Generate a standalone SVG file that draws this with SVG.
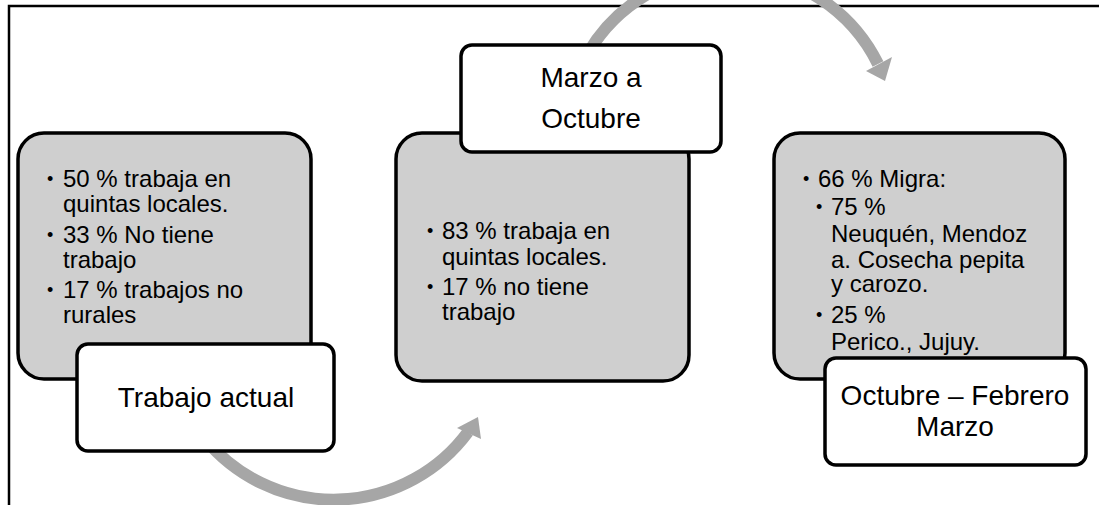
<svg xmlns="http://www.w3.org/2000/svg" width="1099" height="505" viewBox="0 0 1099 505">
<style>
.frame{fill:none;stroke:#000;stroke-width:2.5}
.gray{fill:#cfcfcf;stroke:#000;stroke-width:3.5}
.label{fill:#fff;stroke:#000;stroke-width:3.5}
.arc{fill:none;stroke:#a6a6a6;stroke-width:12}
.head{fill:#a6a6a6}
text{font-family:"Liberation Sans",Arial,sans-serif;fill:#000}
.b{font-size:24px}
.bul{font-size:18px}
.t{font-size:28px;text-anchor:middle}
</style>
<rect x="0" y="0" width="1099" height="505" fill="#fff"/>
<path class="frame" d="M9 505 V6 H1099"/>
<g id="connectors">
  <path class="arc" d="M588 53 A165 165 0 0 1 878 64"/>
  <polygon class="head" points="866,71 892,57 885,81"/>
  <path class="arc" d="M205 439 A167 167 0 0 0 468 432"/>
  <polygon class="head" points="457,428 481,439 478,417"/>
</g>
<g id="box1">
  <rect class="gray" x="18" y="133" width="293" height="246" rx="26"/>
  <text class="bul" x="47" y="185">•</text><text class="b" x="63" y="187">50 % trabaja en</text>
  <text class="b" x="63" y="212">quintas locales.</text>
  <text class="bul" x="47" y="241">•</text><text class="b" x="63" y="243">33 % No tiene</text>
  <text class="b" x="63" y="268">trabajo</text>
  <text class="bul" x="47" y="296">•</text><text class="b" x="63" y="298">17 % trabajos no</text>
  <text class="b" x="63" y="323">rurales</text>
</g>
<g id="label1">
  <rect class="label" x="77" y="344" width="257" height="107" rx="11"/>
  <text class="t" x="206" y="407">Trabajo actual</text>
</g>
<g id="box2">
  <rect class="gray" x="396" y="133" width="293" height="248" rx="26"/>
  <text class="bul" x="427" y="237">•</text><text class="b" x="442" y="239">83 % trabaja en</text>
  <text class="b" x="442" y="265">quintas locales.</text>
  <text class="bul" x="427" y="293">•</text><text class="b" x="442" y="295">17 % no tiene</text>
  <text class="b" x="442" y="320">trabajo</text>
</g>
<g id="label2">
  <rect class="label" x="461" y="45" width="260" height="107" rx="11"/>
  <text class="t" x="591" y="87">Marzo a</text>
  <text class="t" x="591" y="128">Octubre</text>
</g>
<g id="box3">
  <rect class="gray" x="774" y="133" width="291" height="246" rx="26"/>
  <text class="bul" x="803" y="185">•</text><text class="b" x="818" y="187">66 % Migra:</text>
  <text class="bul" x="816" y="213">•</text><text class="b" x="831" y="215">75 %</text>
  <text class="b" x="831" y="242">Neuquén, Mendoz</text>
  <text class="b" x="831" y="268">a. Cosecha pepita</text>
  <text class="b" x="831" y="292">y carozo.</text>
  <text class="bul" x="816" y="321">•</text><text class="b" x="831" y="323">25 %</text>
  <text class="b" x="831" y="350">Perico., Jujuy.</text>
</g>
<g id="label3">
  <rect class="label" x="825" y="358" width="261" height="107" rx="11"/>
  <text class="t" x="955" y="405">Octubre – Febrero</text>
  <text class="t" x="955" y="436">Marzo</text>
</g>
</svg>
